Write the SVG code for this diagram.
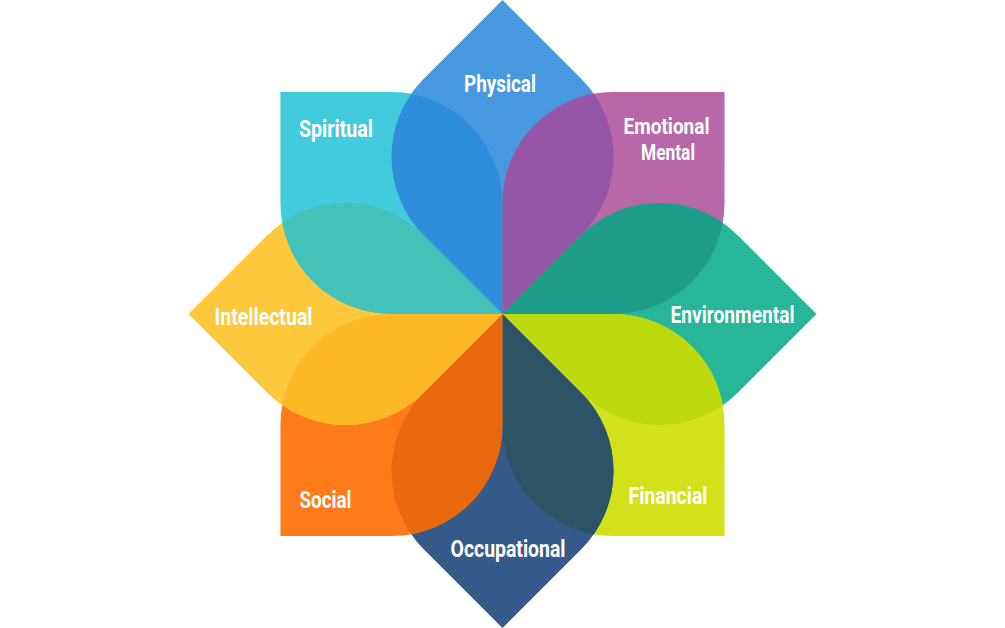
<svg xmlns="http://www.w3.org/2000/svg" xmlns:xlink="http://www.w3.org/1999/xlink" width="1005" height="628" viewBox="0 0 1005 628">
  <style>
    .lbl { fill: #ffffff; font-family: "Liberation Sans Narrow", "Roboto", "Liberation Sans", sans-serif; font-size: 24px; font-weight: bold; }
    .lbl2 { font-size: 21.5px; }
  </style>
  <defs>
    <path id="petal" d="M0 0 L-78.5 -78.5 A111.02 111.02 0 0 1 -78.5 -235.5 L0 -314 L78.5 -235.5 A111.02 111.02 0 0 1 78.5 -78.5 Z"/>
    <clipPath id="clip-physical"><use xlink:href="#petal" href="#petal" transform="translate(502.5 314) rotate(0)"/></clipPath>
    <clipPath id="clip-emotional"><use xlink:href="#petal" href="#petal" transform="translate(502.5 314) rotate(45)"/></clipPath>
    <clipPath id="clip-environmental"><use xlink:href="#petal" href="#petal" transform="translate(502.5 314) rotate(90)"/></clipPath>
    <clipPath id="clip-financial"><use xlink:href="#petal" href="#petal" transform="translate(502.5 314) rotate(135)"/></clipPath>
    <clipPath id="clip-occupational"><use xlink:href="#petal" href="#petal" transform="translate(502.5 314) rotate(180)"/></clipPath>
    <clipPath id="clip-social"><use xlink:href="#petal" href="#petal" transform="translate(502.5 314) rotate(225)"/></clipPath>
    <clipPath id="clip-intellectual"><use xlink:href="#petal" href="#petal" transform="translate(502.5 314) rotate(270)"/></clipPath>
    <clipPath id="clip-spiritual"><use xlink:href="#petal" href="#petal" transform="translate(502.5 314) rotate(315)"/></clipPath>
  </defs>
  <rect width="1005" height="628" fill="#ffffff"/>

  <g id="physical">
    <use xlink:href="#petal" href="#petal" transform="translate(502.5 314) rotate(0)" fill="#4898E0"/>
  </g>
  <g id="emotional-mental">
    <use xlink:href="#petal" href="#petal" transform="translate(502.5 314) rotate(45)" fill="#B867A9"/>
  </g>
  <g id="environmental">
    <use xlink:href="#petal" href="#petal" transform="translate(502.5 314) rotate(90)" fill="#27B698"/>
  </g>
  <g id="financial">
    <use xlink:href="#petal" href="#petal" transform="translate(502.5 314) rotate(135)" fill="#D3E11A"/>
  </g>
  <g id="occupational">
    <use xlink:href="#petal" href="#petal" transform="translate(502.5 314) rotate(180)" fill="#355A8A"/>
  </g>
  <g id="social">
    <use xlink:href="#petal" href="#petal" transform="translate(502.5 314) rotate(225)" fill="#FE7B1C"/>
  </g>
  <g id="intellectual">
    <use xlink:href="#petal" href="#petal" transform="translate(502.5 314) rotate(270)" fill="#FDC83B"/>
  </g>
  <g id="spiritual">
    <use xlink:href="#petal" href="#petal" transform="translate(502.5 314) rotate(315)" fill="#41CBDC"/>
  </g>

  <g id="overlaps">
    <g clip-path="url(#clip-spiritual)"><use xlink:href="#petal" href="#petal" transform="translate(502.5 314) rotate(0)" fill="#2E8EDC"/></g>
    <g clip-path="url(#clip-physical)"><use xlink:href="#petal" href="#petal" transform="translate(502.5 314) rotate(45)" fill="#9556A5"/></g>
    <g clip-path="url(#clip-emotional)"><use xlink:href="#petal" href="#petal" transform="translate(502.5 314) rotate(90)" fill="#1D9D89"/></g>
    <g clip-path="url(#clip-environmental)"><use xlink:href="#petal" href="#petal" transform="translate(502.5 314) rotate(135)" fill="#BDDA0F"/></g>
    <g clip-path="url(#clip-financial)"><use xlink:href="#petal" href="#petal" transform="translate(502.5 314) rotate(180)" fill="#2D5366"/></g>
    <g clip-path="url(#clip-occupational)"><use xlink:href="#petal" href="#petal" transform="translate(502.5 314) rotate(225)" fill="#E9690F"/></g>
    <g clip-path="url(#clip-social)"><use xlink:href="#petal" href="#petal" transform="translate(502.5 314) rotate(270)" fill="#FDB925"/></g>
    <g clip-path="url(#clip-intellectual)"><use xlink:href="#petal" href="#petal" transform="translate(502.5 314) rotate(315)" fill="#44C1B8"/></g>
  </g>

  <g id="labels">
    <text class="lbl" x="464" y="92" textLength="72" lengthAdjust="spacingAndGlyphs">Physical</text>
    <text class="lbl" x="299" y="137" textLength="74" lengthAdjust="spacingAndGlyphs">Spiritual</text>
    <text class="lbl lbl2"><tspan x="623.5" y="134" textLength="86" lengthAdjust="spacingAndGlyphs">Emotional</tspan><tspan x="641" y="159.5" textLength="54" lengthAdjust="spacingAndGlyphs">Mental</tspan></text>
    <text class="lbl" x="214.5" y="325" textLength="98" lengthAdjust="spacingAndGlyphs">Intellectual</text>
    <text class="lbl" x="670.5" y="323" textLength="124" lengthAdjust="spacingAndGlyphs">Environmental</text>
    <text class="lbl" x="299.5" y="508" textLength="52" lengthAdjust="spacingAndGlyphs">Social</text>
    <text class="lbl" x="450.5" y="557" textLength="115" lengthAdjust="spacingAndGlyphs">Occupational</text>
    <text class="lbl" x="628.5" y="504" textLength="79" lengthAdjust="spacingAndGlyphs">Financial</text>
  </g>
</svg>
